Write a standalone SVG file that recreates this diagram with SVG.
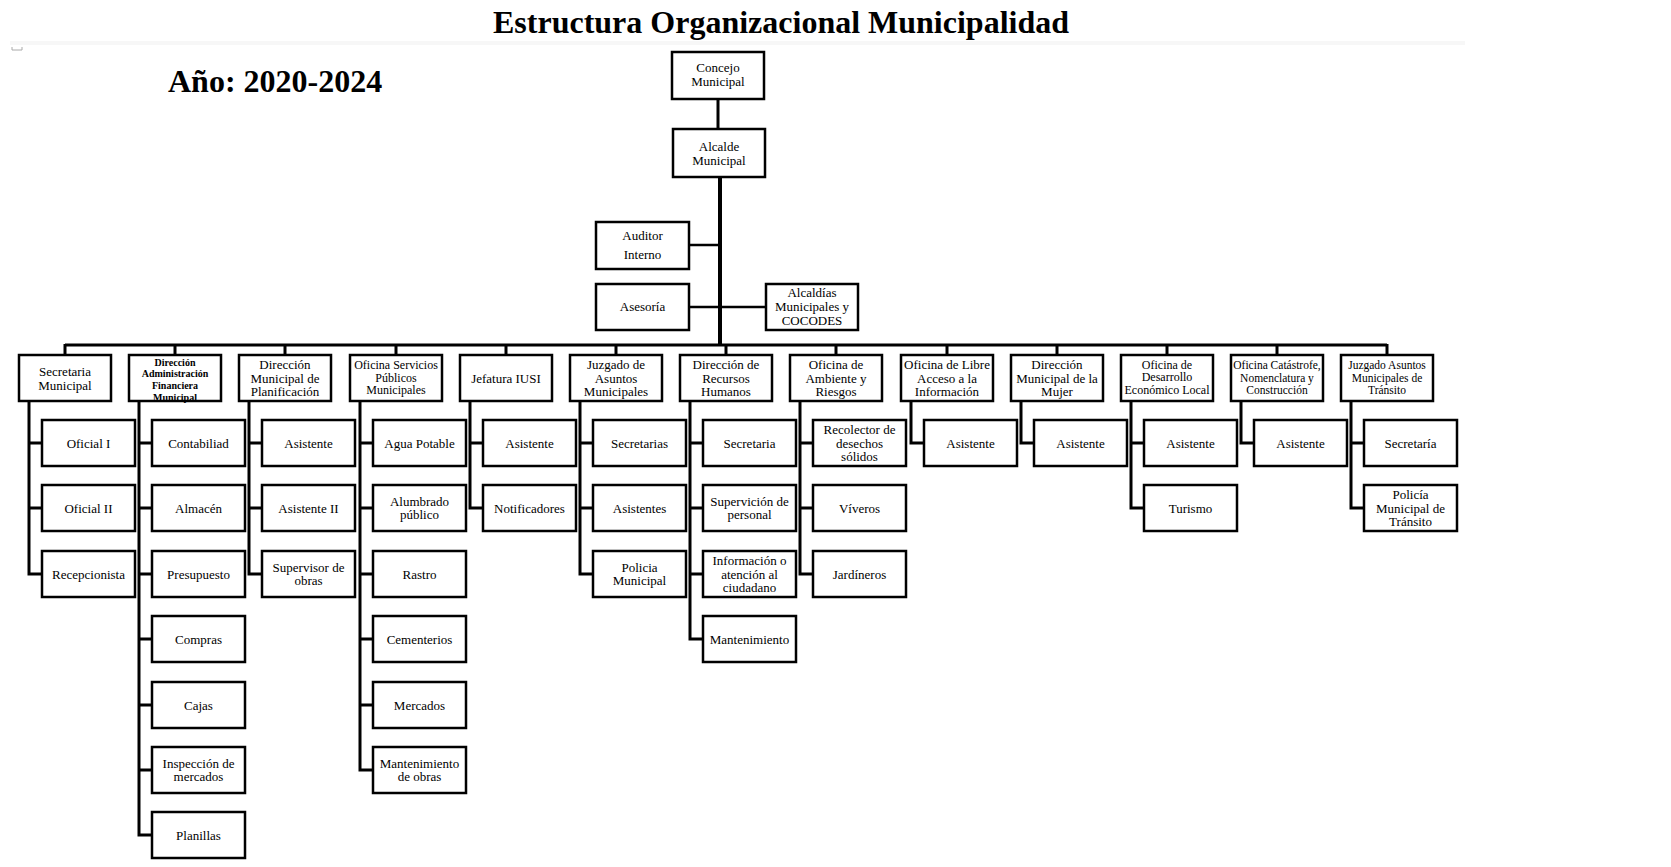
<svg xmlns="http://www.w3.org/2000/svg" width="1671" height="867" viewBox="0 0 1671 867">
<style>
.bx{fill:#fff;stroke:#000;stroke-width:2.5}
.cn{fill:none;stroke:#000;stroke-width:3;stroke-linejoin:miter;stroke-linecap:butt}
text{font-family:"Liberation Serif","Times New Roman",serif;fill:#000;text-anchor:middle}
.t{font-size:13px}
.s{font-size:12px}
.xs{font-size:11.5px}
.daf{font-size:10px;font-weight:bold}
.h{font-weight:bold}
</style>
<rect x="0" y="0" width="1671" height="867" fill="#fff"/>
<rect x="10" y="41" width="1455" height="4" fill="#f7f7f7"/>
<path d="M12 47 V50 H22 V47" fill="none" stroke="#aaa" stroke-width="1"/>
<text class="h" x="781" y="33" font-size="32">Estructura Organizacional Municipalidad</text>
<text class="h" x="168" y="92" font-size="32" style="text-anchor:start">Año: 2020-2024</text>

<g id="connectors">
<path class="cn" d="M718 99 V129" stroke-width="2.5"/>
<path class="cn" d="M720 177 V345" style="stroke-width:4"/>
<path class="cn" d="M689 245 H720 M689 307 H766" style="stroke-width:2.5"/>
<path class="cn" d="M65 345 H1387 M65 344 V355 M175 345 V355 M285 345 V355 M396 345 V355 M506 345 V355 M616 345 V355 M726 345 V355 M836 345 V355 M947 345 V355 M1057 345 V355 M1167 345 V355 M1277 345 V355 M1387 344 V355"/>
<path class="cn" d="M29 401 V574 H42 M29 443 H42 M29 508 H42"/>
<path class="cn" d="M139 401 V835 H152 M139 443 H152 M139 508 H152 M139 574 H152 M139 639 H152 M139 705 H152 M139 770 H152"/>
<path class="cn" d="M249 401 V574 H262 M249 443 H262 M249 508 H262"/>
<path class="cn" d="M360 401 V770 H373 M360 443 H373 M360 508 H373 M360 574 H373 M360 639 H373 M360 705 H373"/>
<path class="cn" d="M470 401 V508 H483 M470 443 H483"/>
<path class="cn" d="M580 401 V574 H593 M580 443 H593 M580 508 H593"/>
<path class="cn" d="M690 401 V639 H703 M690 443 H703 M690 508 H703 M690 574 H703"/>
<path class="cn" d="M800 401 V574 H813 M800 443 H813 M800 508 H813"/>
<path class="cn" d="M911 401 V443 H924"/>
<path class="cn" d="M1021 401 V443 H1034"/>
<path class="cn" d="M1131 401 V508 H1144 M1131 443 H1144"/>
<path class="cn" d="M1241 401 V443 H1254"/>
<path class="cn" d="M1351 401 V508 H1364 M1351 443 H1364"/>
</g>

<g id="n-concejo"><rect class="bx" x="672" y="52" width="92" height="47"/><text class="t" x="718" y="72">Concejo</text><text class="t" x="718" y="86">Municipal</text></g>
<g id="n-alcalde"><rect class="bx" x="673" y="129" width="92" height="48"/><text class="t" x="719" y="151">Alcalde</text><text class="t" x="719" y="165">Municipal</text></g>
<g id="n-auditor"><rect class="bx" x="596" y="222" width="93" height="47"/><text class="t" x="642.5" y="240">Auditor</text><text class="t" x="642.5" y="259">Interno</text></g>
<g id="n-asesoria"><rect class="bx" x="596" y="284" width="93" height="46"/><text class="t" x="642.5" y="311">Asesoría</text></g>
<g id="n-alcaldias"><rect class="bx" x="766" y="284" width="92" height="46"/><text class="t" x="812" y="297">Alcaldías</text><text class="t" x="812" y="311">Municipales y</text><text class="t" x="812" y="325">COCODES</text></g>

<g id="n-secretaria"><rect class="bx" x="19" y="355" width="92" height="46"/><text class="t" x="65" y="376">Secretaria</text><text class="t" x="65" y="390">Municipal</text></g>
<g id="n-daf"><rect class="bx" x="129" y="355" width="92" height="46"/><text class="daf" x="175" y="365.5">Dirección</text><text class="daf" x="175" y="377">Administración</text><text class="daf" x="175" y="388.5">Financiera</text><text class="daf" x="175" y="400.5">Municipal</text></g>
<g id="n-planificacion"><rect class="bx" x="239" y="355" width="92" height="46"/><text class="t" x="285" y="369">Dirección</text><text class="t" x="285" y="382.5">Municipal de</text><text class="t" x="285" y="396">Planificación</text></g>
<g id="n-servicios"><rect class="bx" x="350" y="355" width="92" height="46"/><text class="s" x="396" y="369">Oficina Servicios</text><text class="s" x="396" y="381.5">Públicos</text><text class="s" x="396" y="394">Municipales</text></g>
<g id="n-iusi"><rect class="bx" x="460" y="355" width="92" height="46"/><text class="t" x="506" y="382.5">Jefatura IUSI</text></g>
<g id="n-juzgado"><rect class="bx" x="570" y="355" width="92" height="46"/><text class="t" x="616" y="369">Juzgado de</text><text class="t" x="616" y="382.5">Asuntos</text><text class="t" x="616" y="396">Municipales</text></g>
<g id="n-rrhh"><rect class="bx" x="680" y="355" width="92" height="46"/><text class="t" x="726" y="369">Dirección de</text><text class="t" x="726" y="382.5">Recursos</text><text class="t" x="726" y="396">Humanos</text></g>
<g id="n-ambiente"><rect class="bx" x="790" y="355" width="92" height="46"/><text class="t" x="836" y="369">Oficina de</text><text class="t" x="836" y="382.5">Ambiente y</text><text class="t" x="836" y="396">Riesgos</text></g>
<g id="n-libre"><rect class="bx" x="901" y="355" width="92" height="46"/><text class="t" x="947" y="369">Oficina de Libre</text><text class="t" x="947" y="382.5">Acceso a la</text><text class="t" x="947" y="396">Información</text></g>
<g id="n-mujer"><rect class="bx" x="1011" y="355" width="92" height="46"/><text class="t" x="1057" y="369">Dirección</text><text class="t" x="1057" y="382.5">Municipal de la</text><text class="t" x="1057" y="396">Mujer</text></g>
<g id="n-desarrollo"><rect class="bx" x="1121" y="355" width="92" height="46"/><text class="s" x="1167" y="369">Oficina de</text><text class="s" x="1167" y="381">Desarrollo</text><text class="s" x="1167" y="394">Económico Local</text></g>
<g id="n-catastrofe"><rect class="bx" x="1231" y="355" width="92" height="46"/><text class="xs" x="1277" y="369">Oficina Catástrofe,</text><text class="xs" x="1277" y="381.5">Nomenclatura y</text><text class="xs" x="1277" y="394">Construcción</text></g>
<g id="n-transito"><rect class="bx" x="1341" y="355" width="92" height="46"/><text class="xs" x="1387" y="369">Juzgado Asuntos</text><text class="xs" x="1387" y="381.5">Municipales de</text><text class="xs" x="1387" y="394">Tránsito</text></g>

<g id="n-oficial1"><rect class="bx" x="42" y="420" width="93" height="46"/><text class="t" x="88.5" y="447.5">Oficial I</text></g>
<g id="n-oficial2"><rect class="bx" x="42" y="485" width="93" height="46"/><text class="t" x="88.5" y="512.5">Oficial II</text></g>
<g id="n-recepcionista"><rect class="bx" x="42" y="551" width="93" height="46"/><text class="t" x="88.5" y="578.5">Recepcionista</text></g>

<g id="n-contabilidad"><rect class="bx" x="152" y="420" width="93" height="46"/><text class="t" x="198.5" y="447.5">Contabiliad</text></g>
<g id="n-almacen"><rect class="bx" x="152" y="485" width="93" height="46"/><text class="t" x="198.5" y="512.5">Almacén</text></g>
<g id="n-presupuesto"><rect class="bx" x="152" y="551" width="93" height="46"/><text class="t" x="198.5" y="578.5">Presupuesto</text></g>
<g id="n-compras"><rect class="bx" x="152" y="616" width="93" height="46"/><text class="t" x="198.5" y="643.5">Compras</text></g>
<g id="n-cajas"><rect class="bx" x="152" y="682" width="93" height="46"/><text class="t" x="198.5" y="709.5">Cajas</text></g>
<g id="n-inspeccion"><rect class="bx" x="152" y="747" width="93" height="46"/><text class="t" x="198.5" y="768">Inspección de</text><text class="t" x="198.5" y="781">mercados</text></g>
<g id="n-planillas"><rect class="bx" x="152" y="812" width="93" height="46"/><text class="t" x="198.5" y="839.5">Planillas</text></g>

<g id="n-asistente-plan"><rect class="bx" x="262" y="420" width="93" height="46"/><text class="t" x="308.5" y="447.5">Asistente</text></g>
<g id="n-asistente2-plan"><rect class="bx" x="262" y="485" width="93" height="46"/><text class="t" x="308.5" y="512.5">Asistente II</text></g>
<g id="n-supervisor"><rect class="bx" x="262" y="551" width="93" height="46"/><text class="t" x="308.5" y="572">Supervisor de</text><text class="t" x="308.5" y="585">obras</text></g>

<g id="n-agua"><rect class="bx" x="373" y="420" width="93" height="46"/><text class="t" x="419.5" y="447.5">Agua Potable</text></g>
<g id="n-alumbrado"><rect class="bx" x="373" y="485" width="93" height="46"/><text class="t" x="419.5" y="506">Alumbrado</text><text class="t" x="419.5" y="519">público</text></g>
<g id="n-rastro"><rect class="bx" x="373" y="551" width="93" height="46"/><text class="t" x="419.5" y="578.5">Rastro</text></g>
<g id="n-cementerios"><rect class="bx" x="373" y="616" width="93" height="46"/><text class="t" x="419.5" y="643.5">Cementerios</text></g>
<g id="n-mercados"><rect class="bx" x="373" y="682" width="93" height="46"/><text class="t" x="419.5" y="709.5">Mercados</text></g>
<g id="n-mant-obras"><rect class="bx" x="373" y="747" width="93" height="46"/><text class="t" x="419.5" y="768">Mantenimiento</text><text class="t" x="419.5" y="781">de obras</text></g>

<g id="n-asistente-iusi"><rect class="bx" x="483" y="420" width="93" height="46"/><text class="t" x="529.5" y="447.5">Asistente</text></g>
<g id="n-notificadores"><rect class="bx" x="483" y="485" width="93" height="46"/><text class="t" x="529.5" y="512.5">Notificadores</text></g>

<g id="n-secretarias"><rect class="bx" x="593" y="420" width="93" height="46"/><text class="t" x="639.5" y="447.5">Secretarias</text></g>
<g id="n-asistentes"><rect class="bx" x="593" y="485" width="93" height="46"/><text class="t" x="639.5" y="512.5">Asistentes</text></g>
<g id="n-policia"><rect class="bx" x="593" y="551" width="93" height="46"/><text class="t" x="639.5" y="572">Policia</text><text class="t" x="639.5" y="585">Municipal</text></g>

<g id="n-secretaria-rrhh"><rect class="bx" x="703" y="420" width="93" height="46"/><text class="t" x="749.5" y="447.5">Secretaria</text></g>
<g id="n-supervicion"><rect class="bx" x="703" y="485" width="93" height="46"/><text class="t" x="749.5" y="506">Supervición de</text><text class="t" x="749.5" y="519">personal</text></g>
<g id="n-informacion"><rect class="bx" x="703" y="551" width="93" height="46"/><text class="t" x="749.5" y="565">Información o</text><text class="t" x="749.5" y="578.5">atención al</text><text class="t" x="749.5" y="592">ciudadano</text></g>
<g id="n-mantenimiento"><rect class="bx" x="703" y="616" width="93" height="46"/><text class="t" x="749.5" y="643.5">Mantenimiento</text></g>

<g id="n-recolector"><rect class="bx" x="813" y="420" width="93" height="46"/><text class="t" x="859.5" y="434">Recolector de</text><text class="t" x="859.5" y="447.5">desechos</text><text class="t" x="859.5" y="461">sólidos</text></g>
<g id="n-viveros"><rect class="bx" x="813" y="485" width="93" height="46"/><text class="t" x="859.5" y="512.5">Víveros</text></g>
<g id="n-jardineros"><rect class="bx" x="813" y="551" width="93" height="46"/><text class="t" x="859.5" y="578.5">Jardíneros</text></g>

<g id="n-asistente-libre"><rect class="bx" x="924" y="420" width="93" height="46"/><text class="t" x="970.5" y="447.5">Asistente</text></g>
<g id="n-asistente-mujer"><rect class="bx" x="1034" y="420" width="93" height="46"/><text class="t" x="1080.5" y="447.5">Asistente</text></g>
<g id="n-asistente-des"><rect class="bx" x="1144" y="420" width="93" height="46"/><text class="t" x="1190.5" y="447.5">Asistente</text></g>
<g id="n-turismo"><rect class="bx" x="1144" y="485" width="93" height="46"/><text class="t" x="1190.5" y="512.5">Turismo</text></g>
<g id="n-asistente-cat"><rect class="bx" x="1254" y="420" width="93" height="46"/><text class="t" x="1300.5" y="447.5">Asistente</text></g>
<g id="n-secretaria-tran"><rect class="bx" x="1364" y="420" width="93" height="46"/><text class="t" x="1410.5" y="447.5">Secretaría</text></g>
<g id="n-policia-tran"><rect class="bx" x="1364" y="485" width="93" height="46"/><text class="t" x="1410.5" y="499">Policía</text><text class="t" x="1410.5" y="512.5">Municipal de</text><text class="t" x="1410.5" y="526">Tránsito</text></g>
</svg>
